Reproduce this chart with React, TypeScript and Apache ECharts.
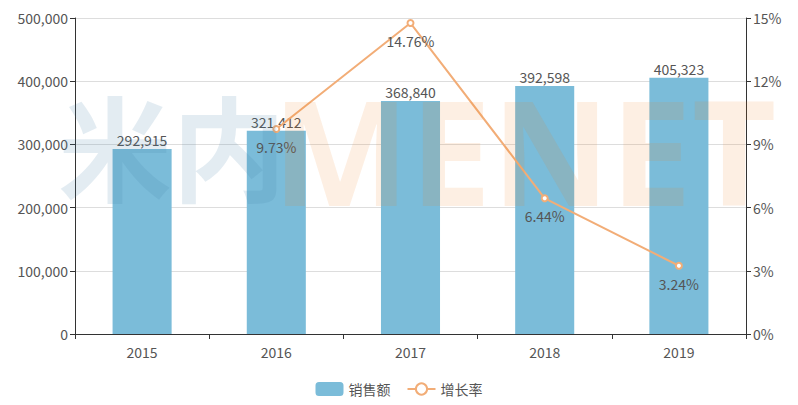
import React, { useEffect, useRef } from "react";
import * as echarts from "echarts";

const categories = ["2015", "2016", "2017", "2018", "2019"];
const salesValues = [292915, 321412, 368840, 392598, 405323];
const growthValues: (number | string)[] = ["-", 9.73, 14.76, 6.44, 3.24];
const leftTicks = { min: 0, max: 500000, interval: 100000 };
const rightTicks = { min: 0, max: 15, interval: 3 };

const FONT = '"Microsoft YaHei", "Noto Sans CJK SC", "Noto Sans", sans-serif';

export default function App() {
  const ref = useRef<HTMLDivElement>(null);
  useEffect(() => {
    if (!ref.current) return;
    const chart = echarts.init(ref.current, undefined, { renderer: "svg" });
    chart.setOption({
      animation: false,
      textStyle: { fontFamily: FONT },
      grid: { left: 75, right: 52, top: 18, bottom: 71 },
      legend: {
        bottom: 4,
        left: "center",
        itemWidth: 28,
        itemHeight: 14,
        itemGap: 16,
        textStyle: { color: "#555", fontSize: 14, fontFamily: FONT },
        data: ["销售额", "增长率"],
      },
      xAxis: {
        type: "category",
        data: categories,
        axisLine: { lineStyle: { color: "#333" } },
        axisTick: { show: true, alignWithLabel: false, lineStyle: { color: "#333" } },
        axisLabel: { color: "#555", fontSize: 14, margin: 11 },
      },
      yAxis: [
        {
          type: "value",
          ...leftTicks,
          axisLine: { show: true, lineStyle: { color: "#333" } },
          axisTick: { show: true, lineStyle: { color: "#333" } },
          axisLabel: {
            color: "#555",
            fontSize: 14,
            margin: 7,
            formatter: (v: number) => v.toLocaleString("en-US"),
          },
          splitLine: { lineStyle: { color: "#ddd" } },
        },
        {
          type: "value",
          ...rightTicks,
          axisLine: { show: true, lineStyle: { color: "#333" } },
          axisTick: { show: true, lineStyle: { color: "#333" } },
          axisLabel: { color: "#555", fontSize: 14, margin: 7, formatter: "{value}%" },
          splitLine: { show: false },
        },
      ],
      graphic: [
        {
          type: "text",
          z: 100,
          silent: true,
          left: 58,
          top: 86,
          style: {
            text: "米内",
            font: 'bold 114px "Noto Sans CJK SC", sans-serif',
            fill: "rgba(68,128,168,0.15)",
          },
        },
        {
          type: "text",
          z: 100,
          silent: true,
          left: 272,
          top: 76,
          style: {
            text: "MENET",
            font: 'bold 146px "Noto Sans", "DejaVu Sans", sans-serif',
            fill: "rgba(238,122,22,0.12)",
          },
        },
      ],
      series: [
        {
          name: "销售额",
          type: "bar",
          data: salesValues,
          barWidth: "44%",
          itemStyle: { color: "#7bbcd9" },
          label: {
            show: true,
            position: "top",
            color: "#555",
            fontSize: 14,
            distance: 2,
            formatter: (p: any) => Number(p.value).toLocaleString("en-US"),
          },
        },
        {
          name: "增长率",
          type: "line",
          yAxisIndex: 1,
          data: growthValues,
          symbol: "emptyCircle",
          symbolSize: 6,
          lineStyle: { color: "#f2ad77", width: 2 },
          itemStyle: { color: "#f2ad77" },
          label: {
            show: true,
            position: "bottom",
            color: "#555",
            fontSize: 14,
            distance: 7,
            formatter: (p: any) => p.value + "%",
          },
        },
      ],
    });
    return () => chart.dispose();
  }, []);
  return (
    <div
      ref={ref}
      style={{ position: "absolute", left: 0, top: 0, width: 798, height: 405 }}
    />
  );
}
